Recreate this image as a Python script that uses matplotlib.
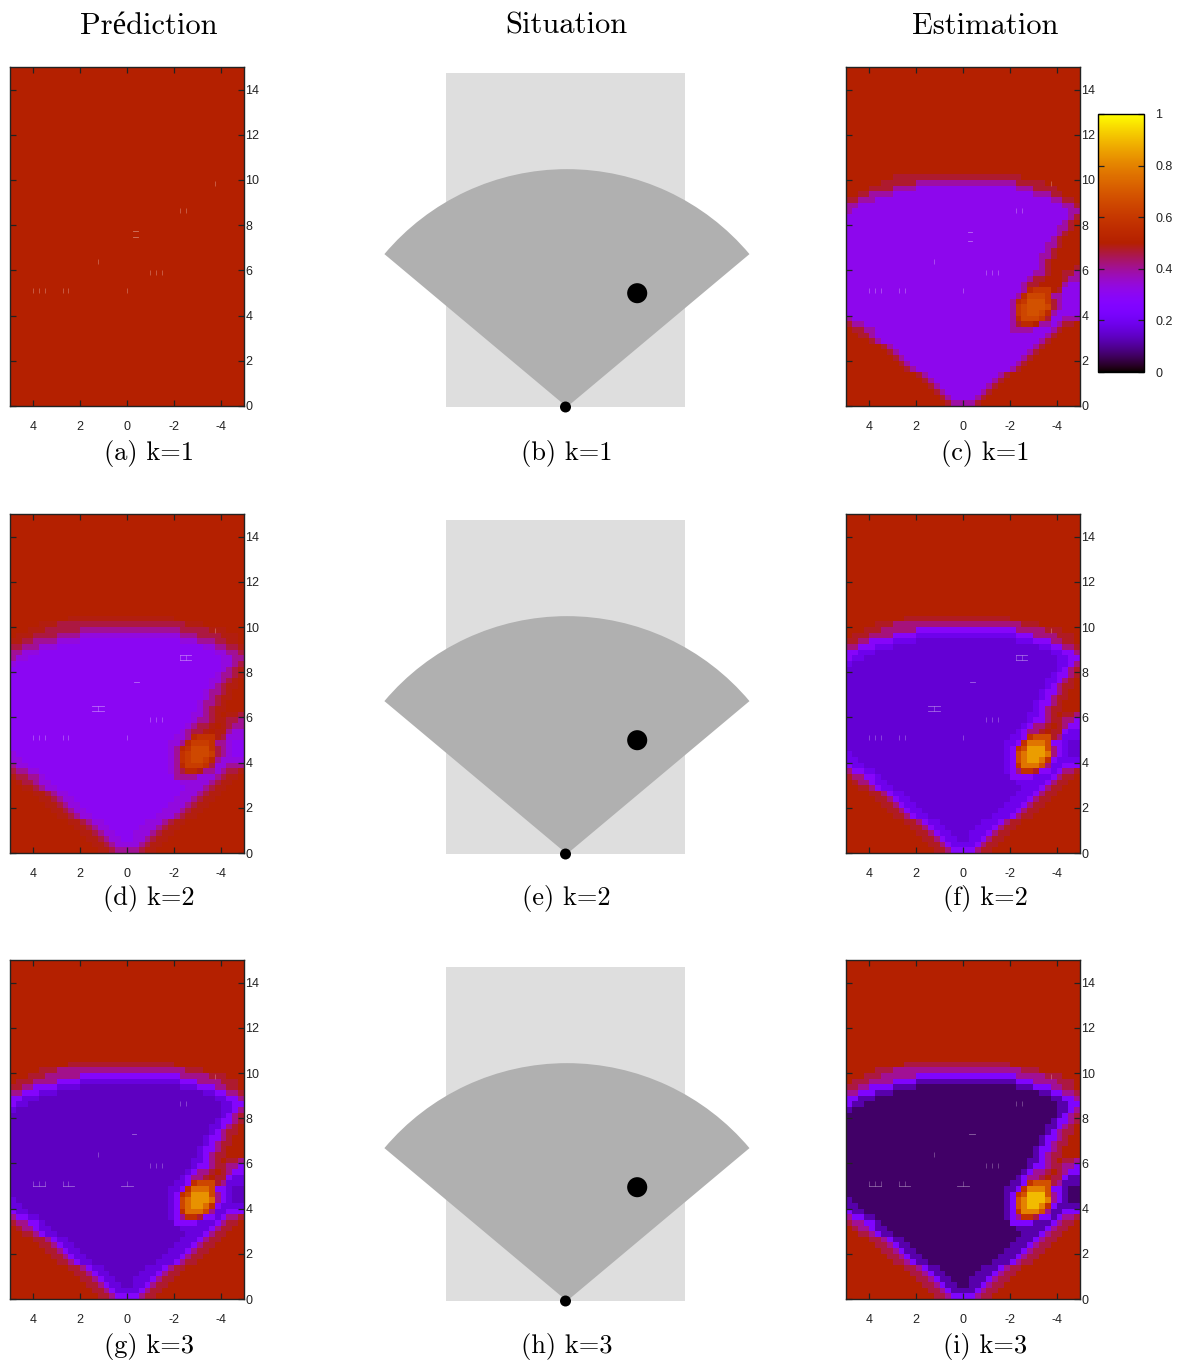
import numpy as np
import matplotlib
matplotlib.use('Agg')
import matplotlib.pyplot as plt
from matplotlib.patches import Rectangle, Wedge, Circle

W, H = 1183, 1363

titles = ['Prédiction', 'Situation', 'Estimation']
captions = [['(a) k=1', '(b) k=1', '(c) k=1'],
            ['(d) k=2', '(e) k=2', '(f) k=2'],
            ['(g) k=3', '(h) k=3', '(i) k=3']]

x_ticks = [4, 2, 0, -2, -4]
y_ticks = [0, 2, 4, 6, 8, 10, 12, 14]
cbar_ticks = [0, 0.2, 0.4, 0.6, 0.8, 1]
cbar_labels = ['0', '0.2', '0.4', '0.6', '0.8', '1']

# zones de la grille 40x60, lues sur la carte (i), de y=15 vers y=0
# . fond, a-e du bord vers la zone libre, p-s pic de l'objet
zones_haut = ['.' * 40] * 18
zones_bas = [
    '.' * 10 + 'a' * 18 + '.' * 12,
    '.....aaa' + 'b' * 22 + 'aaa.......',
    '...aaabbbbbb' + 'c' * 17 + 'bbbbbaaa...',
    '.aaabbbbcccc' + 'd' * 17 + 'cccbbbbaaa.',
    'aabbccccdddd' + 'e' * 17 + 'dddcccbbaa.',
    'bbcccddd' + 'e' * 25 + 'ddccbba',
    'ccddd' + 'e' * 30 + 'ddccb',
    'cdd' + 'e' * 33 + 'ddcc',
    'd' + 'e' * 35 + 'ddcb',
    'e' * 36 + 'dcba',
    'e' * 35 + 'dccba',
    'e' * 34 + 'ddcba.',
    'e' * 34 + 'dcbaa.',
    'e' * 33 + 'dccba..',
    'e' * 33 + 'dcbaa..',
    'e' * 32 + 'dccba...',
    'e' * 32 + 'dcbaa...',
    'e' * 31 + 'ddcba.aab',
    'e' * 31 + 'dccbaabbc',
    'e' * 30 + 'dcbba.abcc',
    'e' * 29 + 'dcbba.aacdd',
    'e' * 28 + 'ddcpqqqabddd',
    'e' * 27 + 'ddcprrrqccdee',
    'e' * 27 + 'dcpqsssqbcdee',
    'd' + 'e' * 26 + 'dcqrsssrbcdee',
    'dd' + 'e' * 25 + 'dcqrssrpcdddd',
    'cdd' + 'e' * 24 + 'dcprrrqbddccc',
    'bccdd' + 'e' * 22 + 'dcbppaccdcbba',
    'abbccd' + 'e' * 22 + 'ccccdddcbaa.',
    '.abbcdd' + 'e' * 22 + 'dddddcbaa..',
    '..aabcdd' + 'e' * 22 + 'dddcbaa...',
    '....aabcdd' + 'e' * 19 + 'dddcbaa....',
    '.....aabcdd' + 'e' * 17 + 'dddcbaa.....',
    '......aabcdd' + 'e' * 15 + 'dddcbaa......',
    '.......aabcdd' + 'e' * 13 + 'dddcbaa.......',
    '........aabcdd' + 'e' * 11 + 'dddcbaa........',
    '..........aabcdd' + 'e' * 7 + 'dddcbaa..........',
    '...........aabcdd' + 'e' * 5 + 'dddcbaa...........',
    '............aabcddeeedddcbaa............',
    '.............aabcddeeddcbaa.............',
    '..............aabcddddcbaa..............',
    '...............aabccccbaa...............',
]

# probabilite de chaque zone, panneau par panneau
zone_names = ['.', 'a', 'b', 'c', 'd', 'e', 'p', 'q', 'r', 's']
niveaux_a = [0.50, 0.50, 0.50, 0.50, 0.50, 0.50, 0.50, 0.50, 0.50, 0.50]
niveaux_c = [0.50, 0.50, 0.47, 0.39, 0.31, 0.31, 0.55, 0.60, 0.65, 0.68]
niveaux_d = [0.50, 0.49, 0.46, 0.40, 0.33, 0.30, 0.54, 0.58, 0.62, 0.66]
niveaux_f = [0.50, 0.48, 0.42, 0.28, 0.19, 0.16, 0.58, 0.67, 0.77, 0.85]
niveaux_g = [0.50, 0.47, 0.41, 0.27, 0.17, 0.14, 0.57, 0.65, 0.75, 0.83]
niveaux_i = [0.50, 0.46, 0.40, 0.25, 0.12, 0.07, 0.58, 0.68, 0.80, 0.90]

# petites marques claires
speck_x = [4, 3.75, 3.5, 2.75, 2.5, 0, -1, -1.25, -1.5, 1.25, -2.25, -2.5, -3.75]
speck_y = [5.1, 5.1, 5.1, 5.1, 5.1, 5.1, 5.9, 5.9, 5.9, 6.4, 8.65, 8.65, 9.85]
bars_a = [(-0.25, -0.45, 7.75), (-0.25, -0.45, 7.5)]
bars_c = [(-0.2, -0.4, 7.7), (-0.2, -0.4, 7.3)]
bars_d = [(-2.25, -2.75, 8.75), (-2.25, -2.75, 8.55), (1.5, 1.0, 6.5), (1.5, 1.0, 6.3), (-0.3, -0.5, 7.55)]
bars_f = [(-2.25, -2.75, 8.75), (-2.25, -2.75, 8.55), (1.5, 1.0, 6.5), (1.5, 1.0, 6.3), (-0.3, -0.5, 7.55)]
bars_g = [(4, 3.5, 5.0), (2.75, 2.25, 5.0), (0.25, -0.25, 5.0), (-0.2, -0.4, 7.3)]
bars_i = [(4, 3.5, 5.0), (2.75, 2.25, 5.0), (0.25, -0.25, 5.0), (-0.25, -0.5, 7.3)]

# scene : rayon, ouverture, cible
portee = 9.97
centre_x = -0.06
angle_min, angle_max = 40, 140
cible_x, cible_y, cible_r = -3, 4.77, 0.42
ego_r = 0.23

plt.rcParams['font.family'] = ['Liberation Sans', 'DejaVu Sans']
plt.rcParams['axes.unicode_minus'] = False
CM = ['cmr10', 'Liberation Serif']
fig = plt.figure(figsize=(W / 100, H / 100), dpi=100)


def axes_px(x0, y0, x1, y1):
    return fig.add_axes([x0 / W, 1 - y1 / H, (x1 - x0) / W, (y1 - y0) / H])


def carte(x0, y0, niveaux, bars):
    ax = axes_px(x0, y0, x0 + 234, y0 + 339)
    table = dict(zip(zone_names, niveaux))
    grille = np.array([[table[c] for c in ligne] for ligne in zones_haut + zones_bas])
    ax.imshow(grille, cmap='gnuplot', vmin=0, vmax=1, extent=(5, -5, 0, 15),
              origin='upper', aspect='auto', interpolation='nearest')
    ax.vlines(speck_x, np.array(speck_y) - 0.1, np.array(speck_y) + 0.1,
              color='white', alpha=0.3, lw=0.6)
    for a, b, y in bars:
        ax.plot([a, b], [y, y], color='white', alpha=0.4, lw=0.6)
    ax.set_xlim(5, -5)
    ax.set_ylim(0, 15)
    ax.set_xticks(x_ticks)
    ax.set_yticks(y_ticks)
    ax.tick_params(axis='both', direction='in', length=4, width=0.9, color='#222222',
                   top=True, right=True, left=True, bottom=True, labelleft=False,
                   labelright=True, labelsize=9, labelcolor='#222222')
    ax.tick_params(axis='x', pad=11)
    ax.tick_params(axis='y', pad=1)
    for s in ax.spines.values():
        s.set_linewidth(1)
        s.set_color('#222222')
    return ax


def scene(y0):
    ax = axes_px(446, y0, 685, y0 + 334)
    ax.set_xlim(5, -5)
    ax.set_ylim(0, 14)
    ax.axis('off')
    ax.add_patch(Rectangle((-5, 0), 10, 14, color='#dedede', lw=0))
    ax.add_patch(Wedge((centre_x, 0), portee, angle_min, angle_max, color='#b0b0b0', lw=0, clip_on=False))
    ax.add_patch(Circle((cible_x, cible_y), cible_r, color='black', lw=0, clip_on=False))
    ax.add_patch(Circle((0, 0), ego_r, color='black', lw=0, clip_on=False))


carte(10, 67, niveaux_a, bars_a)
carte(846, 67, niveaux_c, bars_c)
carte(10, 514, niveaux_d, bars_d)
carte(846, 514, niveaux_f, bars_f)
carte(10, 960, niveaux_g, bars_g)
carte(846, 960, niveaux_i, bars_i)

scene(73)
scene(520)
scene(967)

# barre de couleur
cax = axes_px(1098, 114, 1144, 372)
sm = plt.cm.ScalarMappable(cmap='gnuplot', norm=plt.Normalize(0, 1))
cb = fig.colorbar(sm, cax=cax, ticks=cbar_ticks)
cb.ax.set_yticklabels(cbar_labels)
cb.ax.tick_params(direction='in', length=4, width=0.9, left=True, right=True,
                  labelsize=9, pad=8, color='#222222', labelcolor='#222222')
cb.outline.set_linewidth(1)

col_x = [149, 566.5, 985]
for x, t in zip(col_x, titles):
    fig.text(x / W, 1 - 26 / H, t, family=CM, fontsize=22, ha='center', va='center')
for y, ligne in zip([453, 899, 1346], captions):
    for x, t in zip(col_x, ligne):
        fig.text(x / W, 1 - y / H, t, family=CM, fontsize=19, ha='center', va='center')

fig.savefig('out.png', dpi=100)
